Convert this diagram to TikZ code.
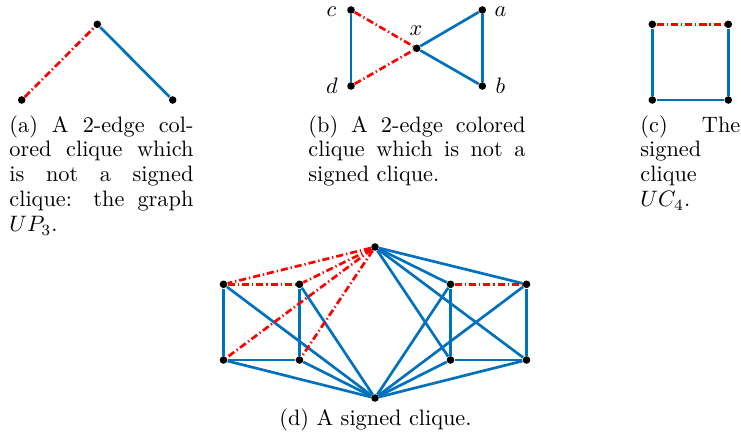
\documentclass[tikz,border=0pt]{standalone}
\definecolor{eblue}{RGB}{0,114,189}
\begin{document}
\begin{tikzpicture}[x=0.4484pt,y=-0.4484pt,
  v/.style={circle,fill=black,inner sep=0pt,minimum size=3.4pt},
  posedge/.style={draw=eblue,line width=1.2pt},
  negedge/.style={draw=red,line width=1.2pt,dash pattern=on 3.2pt off 1.3pt on 0.6pt off 1.3pt},
  captext/.style={anchor=base west,inner sep=0pt,font=\fontsize{10}{11.2}\selectfont},
  lbl/.style={inner sep=0pt}]
\useasboundingbox (0,0) rectangle (741,440);

% (a)
\node[v] (a1) at (97.3,24.3) {};
\node[v] (a2) at (21.7,100) {};
\node[v] (a3) at (172.7,100) {};
\draw[negedge] (a2) -- (a1);
\draw[posedge] (a1) -- (a3);
\node[captext] (capa) at (9,132) {\parbox[t]{82.5pt}{(a) A 2-edge col-\linebreak ored clique which\linebreak is not a signed\linebreak clique: the graph\linebreak $UP_3$.}};

% (b)
\node[v] (bc) at (351,10) {};
\node[v] (ba) at (482.3,10) {};
\node[v] (bx) at (416.7,48.3) {};
\node[v] (bd) at (351,86) {};
\node[v] (bb) at (482.3,86) {};
\draw[posedge] (bc) -- (bd);
\draw[posedge] (ba) -- (bb);
\draw[posedge] (bx) -- (ba);
\draw[posedge] (bx) -- (bb);
\draw[negedge] (bc) -- (bx);
\draw[negedge] (bd) -- (bx);
\node[lbl] (lc) at (331.5,11.5) {$c$};
\node[lbl] (ld) at (332,86) {$d$};
\node[lbl] (lx) at (416,31) {$x$};
\node[lbl] (la) at (500.5,11.5) {$a$};
\node[lbl] (lb) at (500.5,86) {$b$};
\node[captext] (capb) at (308,132) {\parbox[t]{97.3pt}{(b) A 2-edge colored\linebreak clique which is not a\linebreak signed clique.}};

% (c)
\node[v] (c1) at (652.3,24.3) {};
\node[v] (c2) at (728.3,24.3) {};
\node[v] (c3) at (652.3,100) {};
\node[v] (c4) at (728.3,100) {};
\draw[negedge] (c1) -- (c2);
\draw[posedge] (c1) -- (c3);
\draw[posedge] (c2) -- (c4);
\draw[posedge] (c3) -- (c4);
\node[captext] (capc) at (640,132) {\parbox[t]{44.8pt}{(c) The\linebreak signed\newline clique\newline $UC_4$.}};

% (d)
\node[v] (t) at (375,247) {};
\node[v] (bo) at (375,398) {};
\node[v] (l1) at (223.5,284.3) {};
\node[v] (l2) at (299.5,284.3) {};
\node[v] (l3) at (223.5,360) {};
\node[v] (l4) at (299.5,360) {};
\node[v] (r1) at (450.5,284.3) {};
\node[v] (r2) at (526.5,284.3) {};
\node[v] (r3) at (450.5,360) {};
\node[v] (r4) at (526.5,360) {};
\foreach \n in {l1,l2,l3,l4,r1,r2,r3,r4} {\draw[posedge] (bo) -- (\n);}
\foreach \n in {r1,r2,r3,r4} {\draw[posedge] (t) -- (\n);}
\draw[posedge] (l1) -- (l3);
\draw[posedge] (l2) -- (l4);
\draw[posedge] (l3) -- (l4);
\draw[posedge] (r1) -- (r3);
\draw[posedge] (r2) -- (r4);
\draw[posedge] (r3) -- (r4);
\foreach \n in {l1,l2,l3,l4} {\draw[negedge] (t) -- (\n);}
\draw[negedge] (l1) -- (l2);
\draw[negedge] (r1) -- (r2);
\node[anchor=base,inner sep=0pt,font=\fontsize{10}{11.2}\selectfont] (capd) at (375.5,425) {(d) A signed clique.};
\end{tikzpicture}
\end{document}
